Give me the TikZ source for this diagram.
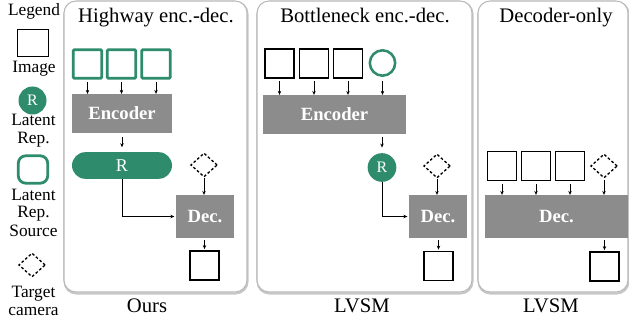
\documentclass[tikz,border=0pt]{standalone}
\usepackage{fontspec}
\setmainfont{Liberation Serif}
\usetikzlibrary{arrows.meta,shapes.geometric}
\definecolor{latgreen}{RGB}{46,140,108}
\definecolor{boxgray}{RGB}{140,140,140}
\tikzset{
  lbl/.style={font=\fontsize{13}{13.5}\selectfont, inner sep=0pt, anchor=base},
  ttl/.style={font=\fontsize{15.5}{18}\selectfont, inner sep=0pt, anchor=base},
  img/.style={draw, line width=1.1pt, minimum width=21.5pt, minimum height=21.5pt, inner sep=0pt},
  src/.style={draw=latgreen, line width=2.1pt, minimum width=21.5pt, minimum height=21.5pt, inner sep=0pt},
  blk/.style={fill=boxgray, text=white, font=\bfseries\fontsize{14}{16}\selectfont, inner sep=0pt},
  cam/.style={diamond, draw, dash pattern=on 2pt off 1.6pt, line width=1pt, minimum width=20pt, minimum height=18pt, inner sep=0pt},
  rep/.style={circle, fill=latgreen, text=white, inner sep=0pt},
  pill/.style={fill=latgreen, text=white, rounded corners=10pt, inner sep=0pt, font=\fontsize{13.5}{14}\selectfont},
  arr/.style={-{Stealth[length=3pt,width=2.6pt]}, line width=0.6pt},
  panel/.style={draw=gray!55, line width=0.8pt, fill=white, rounded corners=9pt},
  panelshade/.style={draw=black!22, line width=1.6pt, rounded corners=9pt}
}
\begin{document}
\begin{tikzpicture}[x=0.75pt,y=0.75pt,yscale=-1]
\path[use as bounding box] (0,0) rectangle (629,321);

%Shape: Panels
\draw[panelshade] (64.5,2) rectangle (247.5,293.5);
\draw[panel] (64,1) rectangle (247,292);
\draw[panelshade] (257.5,2) rectangle (472.5,293.5);
\draw[panel] (257,1) rectangle (472,292);
\draw[panelshade] (478.5,2) rectangle (628.5,293.5);
\draw[panel] (478,1) rectangle (628,292);

% Legend
\node[lbl] (lg-title) at (34,16) {Legend};
\node[img, minimum width=23pt, minimum height=20pt] (lg-img) at (33,43) {};
\node[lbl] (lg-imgtxt) at (34,73) {Image};
\node[rep, minimum size=21pt, font=\fontsize{12}{12}\selectfont] (lg-rep) at (32.5,100.5) {R};
\node[lbl] (lg-reptxt1) at (33.5,126) {Latent};
\node[lbl] (lg-reptxt2) at (33.5,143.5) {Rep.};
\node[src, rounded corners=5.5pt, minimum width=22pt, minimum height=20.5pt] (lg-src) at (33,169.5) {};
\node[lbl] (lg-srctxt1) at (33.5,200) {Latent};
\node[lbl] (lg-srctxt2) at (33.5,218) {Rep.};
\node[lbl] (lg-srctxt3) at (33.5,236.5) {Source};
\node[cam] (lg-cam) at (32,265) {};
\node[lbl] (lg-camtxt1) at (33.5,297) {Target};
\node[lbl] (lg-camtxt2) at (33.5,315) {camera};

% Text Node
\node[ttl] (hw-title) at (156,23) {Highway enc.-dec.};
\node[ttl] (bn-title) at (365,23) {Bottleneck enc.-dec.};
\node[ttl] (do-title) at (556,23) {Decoder-only};
\node[ttl] (hw-name) at (147,312) {Ours};
\node[ttl] (bn-name) at (362,312) {LVSM};
\node[ttl] (do-name) at (551,312) {LVSM};

%Shape: Highway enc.-dec.
\node[src, rounded corners=1pt] (hw-s1) at (87.5,64) {};
\node[src, rounded corners=1pt] (hw-s2) at (121.5,64) {};
\node[src, rounded corners=1pt] (hw-s3) at (156,64) {};
\node[blk, minimum width=75pt, minimum height=29pt] (hw-enc) at (122,113.5) {Encoder};
\node[pill, minimum width=75pt, minimum height=20pt] (hw-rep) at (122,165.5) {R};
\node[cam] (hw-cam) at (204,165) {};
\node[blk, minimum width=43.5pt, minimum height=32pt] (hw-dec) at (205,216.5) {Dec.};
\node[img] (hw-out) at (204.5,265.5) {};

\draw[arr, shorten <=2pt] (hw-s1.south) -- (hw-s1.south |- hw-enc.north);
\draw[arr, shorten <=2pt] (hw-s2.south) -- (hw-s2.south |- hw-enc.north);
\draw[arr, shorten <=2pt] (hw-s3.south) -- (hw-s3.south |- hw-enc.north);
\draw[arr, shorten <=3pt, shorten >=3.5pt] (hw-enc.south) -- (hw-rep.north);
\draw[arr] (hw-cam.south) -- (hw-cam.south |- hw-dec.north);
\draw[arr, shorten >=1pt] (hw-rep.south) |- (hw-dec.west);
\draw[arr, shorten <=1.5pt, shorten >=1pt] (hw-out.north |- hw-dec.south) -- (hw-out.north);

%Shape: Bottleneck enc.-dec.
\node[img] (bn-i1) at (279.5,63.5) {};
\node[img] (bn-i2) at (314,63.5) {};
\node[img] (bn-i3) at (348,63.5) {};
\node[circle, draw=latgreen, line width=1.9pt, minimum size=19pt, inner sep=0pt] (bn-src) at (382.5,63) {};
\node[blk, minimum width=107pt, minimum height=29pt] (bn-enc) at (334.5,114.5) {Encoder};
\node[rep, minimum size=21.5pt, font=\fontsize{12}{12}\selectfont] (bn-rep) at (382,167.5) {R};
\node[cam] (bn-cam) at (437,166) {};
\node[blk, minimum width=43.5pt, minimum height=32pt] (bn-dec) at (438,216.5) {Dec.};
\node[img] (bn-out) at (438.5,266) {};

\draw[arr, shorten <=2pt] (bn-i1.south) -- (bn-i1.south |- bn-enc.north);
\draw[arr, shorten <=2pt] (bn-i2.south) -- (bn-i2.south |- bn-enc.north);
\draw[arr, shorten <=2pt] (bn-i3.south) -- (bn-i3.south |- bn-enc.north);
\draw[arr, shorten <=3pt] (bn-src.south) -- (bn-src.south |- bn-enc.north);
\draw[arr, shorten <=2.5pt, shorten >=4pt] (bn-enc.south -| bn-rep) -- (bn-rep.north);
\draw[arr] (bn-cam.south) -- (bn-cam.south |- bn-dec.north);
\draw[arr, shorten >=1pt] (bn-rep.south) |- (bn-dec.west);
\draw[arr, shorten <=1.5pt, shorten >=1pt] (bn-out.north |- bn-dec.south) -- (bn-out.north);

%Shape: Decoder-only
\node[img] (do-i1) at (502,166) {};
\node[img] (do-i2) at (536,166) {};
\node[img] (do-i3) at (570,166) {};
\node[cam] (do-cam) at (604,166) {};
\node[blk, minimum width=107pt, minimum height=32pt] (do-dec) at (556.5,216.5) {Dec.};
\node[img] (do-out) at (604.5,266.5) {};

\draw[arr, shorten <=2pt] (do-i1.south) -- (do-i1.south |- do-dec.north);
\draw[arr, shorten <=2pt] (do-i2.south) -- (do-i2.south |- do-dec.north);
\draw[arr, shorten <=2pt] (do-i3.south) -- (do-i3.south |- do-dec.north);
\draw[arr, shorten <=1pt] (do-cam.south) -- (do-cam.south |- do-dec.north);
\draw[arr, shorten <=1.5pt, shorten >=1pt] (do-out.north |- do-dec.south) -- (do-out.north);

\end{tikzpicture}
\end{document}
